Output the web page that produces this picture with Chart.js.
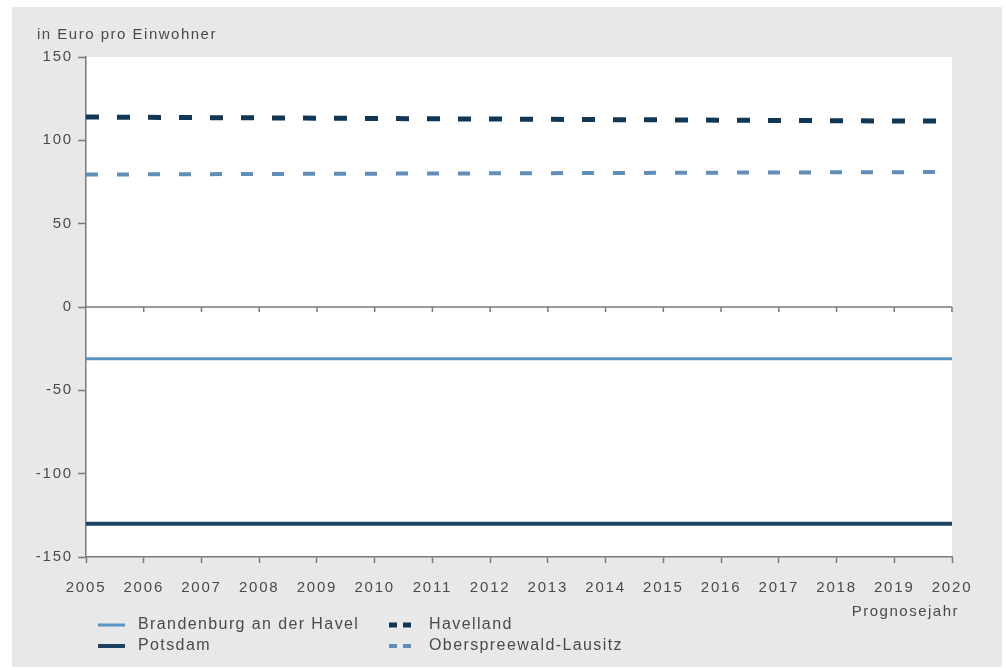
<!DOCTYPE html>
<html>
<head>
<meta charset="UTF-8">
<title>in Euro pro Einwohner</title>
<script src="https://cdn.jsdelivr.net/npm/chart.js"></script>
<style>
  body { margin: 0; background: #ffffff; }
  #box { position: absolute; left: 12px; top: 7px; width: 990px; height: 660px; background: #e8e8e8; }
</style>
</head>
<body>
<div id="box"><canvas id="chart" width="990" height="660"></canvas></div>
<script>
// data
const years = ['2005','2006','2007','2008','2009','2010','2011','2012','2013','2014','2015','2016','2017','2018','2019','2020'];
const brandenburg = [-31,-31,-31,-31,-31,-31,-31,-31,-31,-31,-31,-31,-31,-31,-31,-31];
const potsdam = [-130,-130,-130,-130,-130,-130,-130,-130,-130,-130,-130,-130,-130,-130,-130,-130];
const havelland = [114,113.8,113.6,113.5,113.3,113.1,112.9,112.8,112.6,112.4,112.3,112.1,111.9,111.8,111.6,111.5];
const oberspreewald = [79.5,79.6,79.7,79.8,79.9,80,80.1,80.2,80.3,80.4,80.5,80.6,80.7,80.8,80.9,81];
const seriesNames = ['Brandenburg an der Havel','Potsdam','Havelland','Oberspreewald-Lausitz'];
const yTicks = [150,100,50,0,-50,-100,-150];

const FONT = '"Liberation Sans", Arial, sans-serif';
const TXT = '#4a4a4a';
const AXIS = '#7a7a7a';
const SPACING = '1.8px';

// white plot area, zero line with ticks, titles and legend
const decor = {
  id: 'decor',
  beforeLayout(chart) { chart.ctx.letterSpacing = SPACING; },
  beforeDraw(chart) {
    const {ctx, chartArea: a} = chart;
    ctx.letterSpacing = SPACING;
    ctx.save();
    ctx.fillStyle = '#ffffff';
    ctx.fillRect(a.left, a.top, a.right - a.left, a.bottom - a.top);
    ctx.restore();
  },
  beforeDatasetsDraw(chart) {
    const {ctx, chartArea: a, scales: {x, y}} = chart;
    ctx.save();
    const y0 = y.getPixelForValue(0);
    ctx.strokeStyle = AXIS;
    ctx.lineWidth = 1.5;
    ctx.beginPath();
    ctx.moveTo(a.left, y0); ctx.lineTo(a.right, y0);
    for (let i = 1; i < years.length; i++) {
      const px = x.getPixelForValue(i);
      ctx.moveTo(px, y0); ctx.lineTo(px, y0 + 5);
    }
    ctx.stroke();
    ctx.restore();
  },
  afterDraw(chart) {
    const {ctx, chartArea: a} = chart;
    ctx.save();
    ctx.fillStyle = TXT;
    ctx.font = '15px ' + FONT;
    ctx.letterSpacing = '1.5px';
    ctx.textBaseline = 'middle';
    ctx.textAlign = 'left';
    ctx.fillText('in Euro pro Einwohner', 25, 28);
    ctx.textAlign = 'right';
    ctx.fillText('Prognosejahr', a.right + 7, 605);
    // legend in two columns
    ctx.font = '16px ' + FONT;
    ctx.letterSpacing = '1.4px';
    const cols = [86, 377];
    const rows = [618, 639];
    chart.data.datasets.forEach((ds, i) => {
      const lx = cols[Math.floor(i / 2)];
      const ly = rows[i % 2];
      ctx.strokeStyle = ds.borderColor;
      ctx.lineWidth = ds.borderWidth;
      ctx.setLineDash(ds.borderDash.length ? [8, 6] : []);
      ctx.beginPath();
      ctx.moveTo(lx, ly); ctx.lineTo(lx + 27, ly);
      ctx.stroke();
      ctx.setLineDash([]);
      ctx.fillStyle = TXT;
      ctx.textAlign = 'left';
      ctx.fillText(ds.label, lx + 40, ly);
    });
    ctx.restore();
  }
};

new Chart(document.getElementById('chart'), {
  type: 'line',
  data: {
    labels: years,
    datasets: [
      { label: seriesNames[0], data: brandenburg, borderColor: '#5a94c3', borderWidth: 3, borderDash: [] },
      { label: seriesNames[1], data: potsdam, borderColor: '#1c4263', borderWidth: 4, borderDash: [] },
      { label: seriesNames[2], data: havelland, borderColor: '#113756', borderWidth: 5, borderDash: [13, 18] },
      { label: seriesNames[3], data: oberspreewald, borderColor: '#5f8fb8', borderWidth: 4, borderDash: [12, 19] }
    ]
  },
  options: {
    responsive: false,
    animation: false,
    layout: { padding: { top: 50, right: 50, left: 0, bottom: 0 } },
    elements: { point: { radius: 0 }, line: { tension: 0 } },
    plugins: { legend: { display: false }, tooltip: { enabled: false } },
    scales: {
      x: {
        offset: false,
        grid: { drawOnChartArea: false, drawTicks: true, tickLength: 6, tickColor: AXIS, tickWidth: 1.5 },
        border: { color: AXIS, width: 1.5 },
        ticks: { color: TXT, font: { family: FONT, size: 15 }, padding: 16, maxRotation: 0, autoSkip: false },
        afterFit(s) { s.height = 110; }
      },
      y: {
        min: -150, max: 150,
        afterBuildTicks(s) { s.ticks = yTicks.map(v => ({ value: v })); },
        grid: { drawOnChartArea: false, drawTicks: true, tickLength: 8, tickColor: AXIS, tickWidth: 1.5 },
        border: { color: AXIS, width: 1.5 },
        ticks: { color: TXT, font: { family: FONT, size: 15 }, padding: 5 },
        afterFit(s) { s.width = 74; }
      }
    }
  },
  plugins: [decor]
});
</script>
</body>
</html>
